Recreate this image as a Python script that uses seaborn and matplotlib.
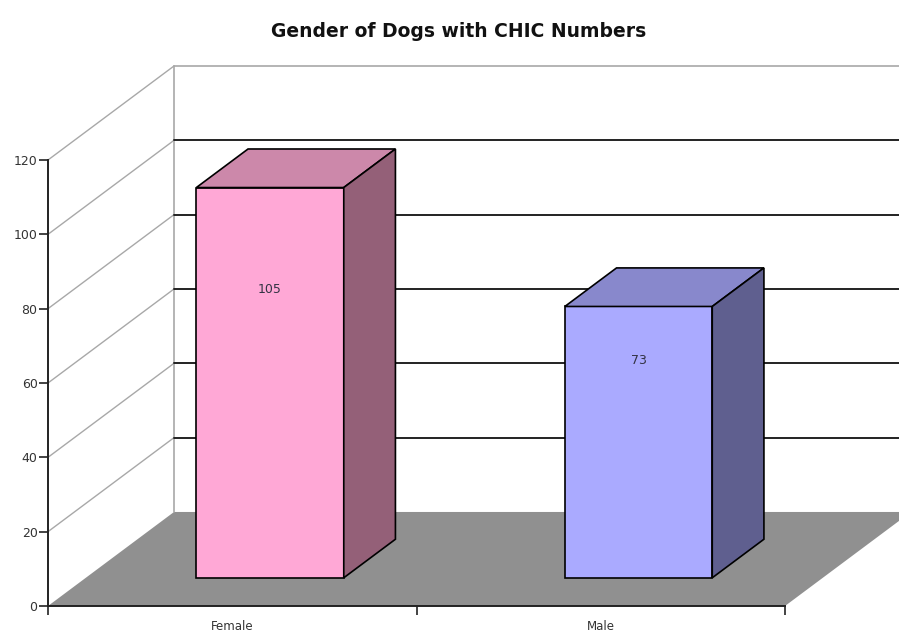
import matplotlib
matplotlib.use('Agg')
import matplotlib.pyplot as plt
import matplotlib.transforms as mtransforms
from matplotlib.patches import Polygon
import pandas as pd
import seaborn as sns

# datos
genders = ['Female', 'Male']
counts = [105, 73]
front_colors = ['#FFA8D6', '#AAAAFF']
top_colors = ['#CC88AA', '#8888CC']
side_colors = ['#946078', '#5F5F8F']
y_ticks = [0, 20, 40, 60, 80, 100, 120]
label_frac = [0.74, 0.80]

sns.set_style('white')
plt.rcParams['font.family'] = ['DejaVu Sans']

df = pd.DataFrame({'Gender': genders, 'Count': counts})

fig = plt.figure(figsize=(8.99, 6.34), dpi=100)
ax = fig.add_axes([48 / 899, 28 / 634, 737 / 899, 446 / 634])

# profundidad del efecto 3D (en unidades de datos)
depth_x = 0.342
depth_y = 25.3
f0, f1 = 0.30, 0.71
bar_w = 0.4

ax.set_xlim(-0.5, 1.5)
ax.set_ylim(0, 120)

# piso gris
x0, x1 = -0.5, len(genders) - 0.5
floor = Polygon([(x0, 0), (x1, 0), (x1 + depth_x, depth_y), (x0 + depth_x, depth_y)],
                closed=True, facecolor='#909090', edgecolor='none', zorder=1, clip_on=False)
ax.add_patch(floor)

# pared izquierda y pared del fondo
wall = '#A8A8A8'
for v in y_ticks[1:]:
    ax.plot([x0, x0 + depth_x], [v, v + depth_y], color=wall, lw=1, zorder=1.5, clip_on=False)
ax.plot([x0 + depth_x, x0 + depth_x], [depth_y, y_ticks[-1] + depth_y], color=wall, lw=1.2,
        zorder=1.5, clip_on=False)
ax.plot([x0 + depth_x, x1 + depth_x], [y_ticks[-1] + depth_y] * 2, color=wall, lw=1.2,
        zorder=1.5, clip_on=False)
for v in y_ticks[1:-1]:
    ax.plot([x0 + depth_x, x1 + depth_x], [v + depth_y] * 2, color='#222222', lw=1.4,
            zorder=2, clip_on=False)

# barras frontales con seaborn
sns.barplot(data=df, x='Gender', y='Count', hue='Gender', palette=front_colors,
            width=bar_w, legend=False, edgecolor='black', linewidth=1.2, saturation=1, ax=ax)

# desplazar barras hacia el fondo
base_tr = mtransforms.Affine2D().translate(f0 * depth_x, f0 * depth_y) + ax.transData
bar_patches = [p for p in ax.patches if p is not floor]
for p in bar_patches:
    p.set_transform(base_tr)
    p.set_zorder(3)
    p.set_clip_on(False)

ddx, ddy = (f1 - f0) * depth_x, (f1 - f0) * depth_y
for i, v in enumerate(counts):
    l, r = i - bar_w / 2, i + bar_w / 2
    top = Polygon([(l, v), (r, v), (r + ddx, v + ddy), (l + ddx, v + ddy)], closed=True,
                  facecolor=top_colors[i], edgecolor='black', lw=1.2, zorder=3,
                  transform=base_tr, clip_on=False)
    side = Polygon([(r, 0), (r + ddx, ddy), (r + ddx, v + ddy), (r, v)], closed=True,
                   facecolor=side_colors[i], edgecolor='black', lw=1.2, zorder=3,
                   transform=base_tr, clip_on=False)
    ax.add_patch(top)
    ax.add_patch(side)
    ax.text(i, v * label_frac[i], str(v), transform=base_tr, ha='center', va='center',
            fontsize=9, color='#333344', zorder=4)

# ejes
for s in ['top', 'right']:
    ax.spines[s].set_visible(False)
for s in ['left', 'bottom']:
    ax.spines[s].set_color('#222222')
    ax.spines[s].set_linewidth(1.4)
ax.set_yticks(y_ticks)
ax.tick_params(axis='y', length=6.5, width=1.2, color='#222222', labelsize=9,
               labelcolor='#333333', pad=1, left=True)
ax.set_xticks(range(len(genders)))
ax.set_xticklabels(genders)
ax.set_xticks([x0 + k for k in range(len(genders) + 1)], minor=True)
ax.tick_params(axis='x', which='major', length=0, labelsize=8.5, labelcolor='#333333', pad=10)
ax.tick_params(axis='x', which='minor', length=6.5, width=1.2, color='#222222', bottom=True)
ax.set_xlabel('')
ax.set_ylabel('')
ax.patch.set_alpha(0)

fig.suptitle('Gender of Dogs with CHIC Numbers', fontsize=13.5, fontweight='bold', y=0.966,
             x=459 / 899, color='#111111')

fig.savefig('out.png', dpi=100)
